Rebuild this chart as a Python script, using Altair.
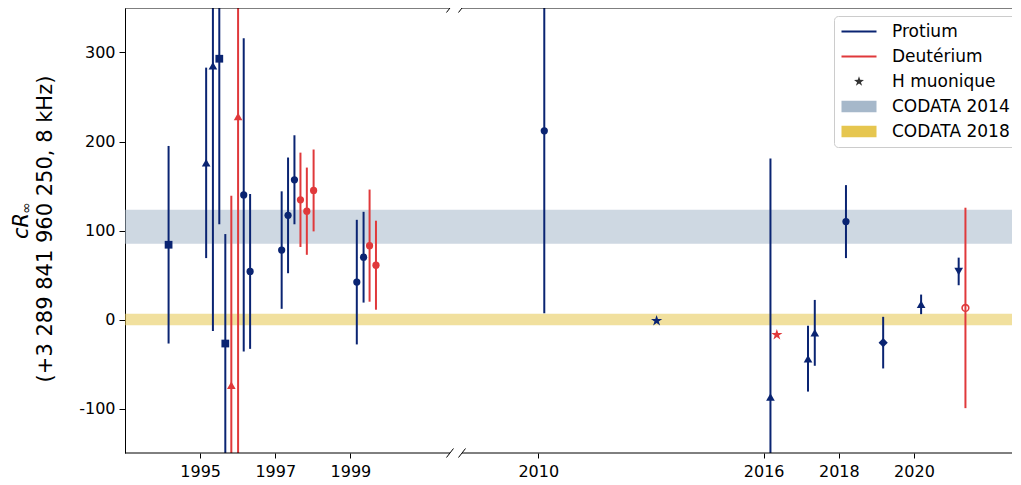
import math
import pandas as pd
import altair as alt

# ---------------- data ----------------
# Protium measurements: year, value (kHz above 3 289 841 960 250.8 kHz), 1-sigma error, marker
p_year = [1994.16, 1995.16, 1995.34, 1995.51, 1995.67, 1996.16, 1996.33, 1997.17, 1997.34,
          1997.51, 1999.17, 1999.35, 2010.16, 2016.18, 2017.18, 2017.36, 2018.19, 2019.18,
          2020.19, 2021.19]
p_value = [84, 176, 285, 293, -27, 140, 54, 78, 117, 157, 42, 70, 212, -87, -44, -15, 110,
           -26, 17, 54]
p_err = [111, 107, 298, 186, 123, 176, 87, 66, 65, 50, 70, 51, 205, 268, 37, 37, 41, 29,
         11, 15.5]
p_marker = ["square", "triangle-up", "triangle-up", "square", "square", "circle", "circle",
            "circle", "circle", "circle", "circle", "circle", "circle", "triangle-up",
            "triangle-up", "triangle-up", "circle", "diamond", "triangle-up", "triangle-down"]

# Deuterium measurements
d_year = [1995.83, 1996.01, 1997.67, 1997.84, 1998.02, 1999.51, 1999.68, 2021.37]
d_value = [-74, 228, 134.5, 121.7, 145, 83, 61, 13]
d_err = [213, 400, 53, 49, 46, 63, 50, 112.6]
d_marker = ["triangle-up", "triangle-up", "circle", "circle", "circle", "circle", "circle",
            "open-circle"]

# Muonic hydrogen / deuterium (stars)
mu_year = [2013.15, 2016.35]
mu_value = [-1.5, -17.2]
mu_species = ["Protium", "Deutérium"]

# CODATA bands (centre, half width)
codata_name = ["CODATA 2014", "CODATA 2018"]
codata_center = [104.2, 0.0]
codata_half = [19.0, 6.4]

# x tick labels (years)
x_ticks = [1995, 1997, 1999, 2010, 2016, 2018, 2020]
y_ticks = [-100, 0, 100, 200, 300]

legend_labels = ["Protium", "Deutérium", "H muonique", "CODATA 2014", "CODATA 2018"]

# ---------------- styling ----------------
NAVY = "#0a2472"
RED = "#e0393b"
C14 = "#a6b8ca"
C18 = "#e6c64f"
FONT = "DejaVu Sans"
W, H = 895, 445
BREAK_YEAR = 2005      # years after this are shifted left (broken axis)
SHIFT = 6
PX_PER_YEAR = 37.57
X_DOM = [1993, 1993 + W / PX_PER_YEAR]
LEFT_END, RIGHT_START = 2001.65, 2001.97   # axis positions of the break


def pos(y):
    return y if y < BREAK_YEAR else y - SHIFT


def xpx(p):
    return (p - X_DOM[0]) / (X_DOM[1] - X_DOM[0]) * W


def star_path(r_out=1.0, r_in=0.38):
    pts = []
    for k in range(10):
        ang = math.pi / 2 + k * math.pi / 5
        r = r_out if k % 2 == 0 else r_in
        pts.append((r * math.cos(ang), -r * math.sin(ang)))
    return "M" + "L".join(f"{x:.3f},{y:.3f}" for x, y in pts) + "Z"


STAR = star_path()
SIZES = {"circle": 52, "square": 60, "triangle-up": 75, "triangle-down": 75,
         "diamond": 85, "open-circle": 45, STAR: 140}

rows = []
for yv, v, e, m in zip(p_year, p_value, p_err, p_marker):
    rows.append(dict(pos=pos(yv), value=v, lo=v - e, hi=v + e, col=NAVY, shape=m))
for yv, v, e, m in zip(d_year, d_value, d_err, d_marker):
    rows.append(dict(pos=pos(yv), value=v, lo=v - e, hi=v + e, col=RED, shape=m))
for yv, v, s in zip(mu_year, mu_value, mu_species):
    rows.append(dict(pos=pos(yv), value=v, lo=v, hi=v, col=NAVY if s == "Protium" else RED,
                     shape=STAR))
df = pd.DataFrame(rows)
df["sz"] = df["shape"].map(SIZES)
bars = df[df["hi"] > df["lo"]]
filled = df[df["shape"] != "open-circle"]
opened = df[df["shape"] == "open-circle"]

band_df = pd.DataFrame({
    "name": codata_name,
    "lo": [c - h for c, h in zip(codata_center, codata_half)],
    "hi": [c + h for c, h in zip(codata_center, codata_half)],
    "col": [C14, C18],
})

xscale = alt.Scale(domain=X_DOM, nice=False, zero=False)
yscale = alt.Scale(domain=[-150, 350], nice=False, zero=False)
x_axis = alt.Axis(values=[pos(t) for t in x_ticks],
                  labelExpr=f"toString(datum.value > {BREAK_YEAR - SHIFT} ? datum.value + {SHIFT} : datum.value)",
                  title=None, domain=False, tickSize=5, labelPadding=5, grid=False)
y_axis = alt.Axis(values=y_ticks, labelExpr="toString(datum.value)", title=None,
                  tickSize=6, labelPadding=4, grid=False, domainColor="black")

bands = alt.Chart(band_df).mark_rect(opacity=0.55).encode(
    x=alt.value(0), x2=alt.value(W),
    y=alt.Y("lo:Q", scale=yscale, axis=y_axis), y2="hi:Q",
    color=alt.Color("col:N", scale=None),
)

errbars = alt.Chart(bars).mark_rule(strokeWidth=2, clip=True).encode(
    x=alt.X("pos:Q", scale=xscale, axis=x_axis),
    y=alt.Y("lo:Q", scale=yscale), y2="hi:Q",
    color=alt.Color("col:N", scale=None),
)

pts = alt.Chart(filled).mark_point(filled=True, opacity=1, strokeWidth=0, clip=True).encode(
    x=alt.X("pos:Q", scale=xscale),
    y=alt.Y("value:Q", scale=yscale),
    shape=alt.Shape("shape:N", scale=None),
    color=alt.Color("col:N", scale=None),
    size=alt.Size("sz:Q", scale=None),
)

open_pts = alt.Chart(opened).mark_point(filled=False, opacity=1, strokeWidth=1.6, clip=True).encode(
    x=alt.X("pos:Q", scale=xscale),
    y=alt.Y("value:Q", scale=yscale),
    shape=alt.value("circle"),
    color=alt.Color("col:N", scale=None),
    size=alt.Size("sz:Q", scale=None),
)

# ---- spines of the broken axis (decoration) ----
le, rs = xpx(LEFT_END), xpx(RIGHT_START)
spines = []
for yy in (0, H):
    spines.append(alt.Chart().mark_rule(color="black", strokeWidth=1).encode(
        x=alt.value(0), x2=alt.value(le), y=alt.value(yy)))
    spines.append(alt.Chart().mark_rule(color="black", strokeWidth=1).encode(
        x=alt.value(rs), x2=alt.value(W), y=alt.value(yy)))
    for cx in (le, rs):
        spines.append(alt.Chart().mark_rule(color="black", strokeWidth=1).encode(
            x=alt.value(cx - 3.5), x2=alt.value(cx + 3.5),
            y=alt.value(yy + 4.5), y2=alt.value(yy - 4.5)))

# ---- y title (decoration text) ----
t1 = alt.Chart().mark_text(text="cR", font=FONT, fontSize=21, fontStyle="italic", angle=270,
                           align="center", baseline="alphabetic", color="black").encode(
    x=alt.value(-96.7), y=alt.value(218))
t1b = alt.Chart().mark_text(text="∞", font=FONT, fontSize=14, angle=270,
                            align="center", baseline="alphabetic", color="black").encode(
    x=alt.value(-94.5), y=alt.value(200))
t2 = alt.Chart().mark_text(text="(+3 289 841 960 250, 8 kHz)", font=FONT, fontSize=21,
                           angle=270, align="center", baseline="alphabetic",
                           color="black").encode(
    x=alt.value(-73.3), y=alt.value(221))

# ---- legend ----
LINE = "M-2.5,-0.143H2.5V0.143H-2.5Z"
RECT = "M-2.5,-0.836H2.5V0.836H-2.5Z"
LSTAR = star_path(0.75, 0.29)
leg_df = pd.DataFrame({"label": legend_labels})
leg_kw = dict(title=None, orient="none", legendX=709, legendY=8, fillColor="white",
              strokeColor="#cccccc", cornerRadius=4, padding=7, labelFontSize=17,
              labelFont=FONT, labelColor="black", symbolStrokeWidth=0, labelOffset=24.5,
              rowPadding=7, symbolOffset=9.5, labelLimit=0, symbolSize=196)
legend_layer = alt.Chart(leg_df).mark_point(filled=True, opacity=1, size=196, clip=True).encode(
    x=alt.value(-999), y=alt.value(-999),
    color=alt.Color("label:N", scale=alt.Scale(domain=legend_labels,
                                               range=[NAVY, RED, "#333333", C14, C18]),
                    legend=alt.Legend(**leg_kw)),
    shape=alt.Shape("label:N", scale=alt.Scale(domain=legend_labels,
                                               range=[LINE, LINE, LSTAR, RECT, RECT]),
                    legend=alt.Legend(**leg_kw)),
)

chart = alt.layer(bands, errbars, pts, open_pts, *spines, t1, t1b, t2, legend_layer).resolve_scale(
    color="independent", shape="independent", size="independent"
).properties(
    width=W, height=H,
    autosize=alt.AutoSizeParams(type="none"),
    padding={"left": 117, "top": 0, "right": -8, "bottom": 30},
).configure_view(stroke=None).configure_axis(
    labelFont=FONT, labelFontSize=16, labelColor="black", tickColor="black", domainColor="black"
)

chart.save("out.html", embed_options={"renderer": "svg", "actions": False})
